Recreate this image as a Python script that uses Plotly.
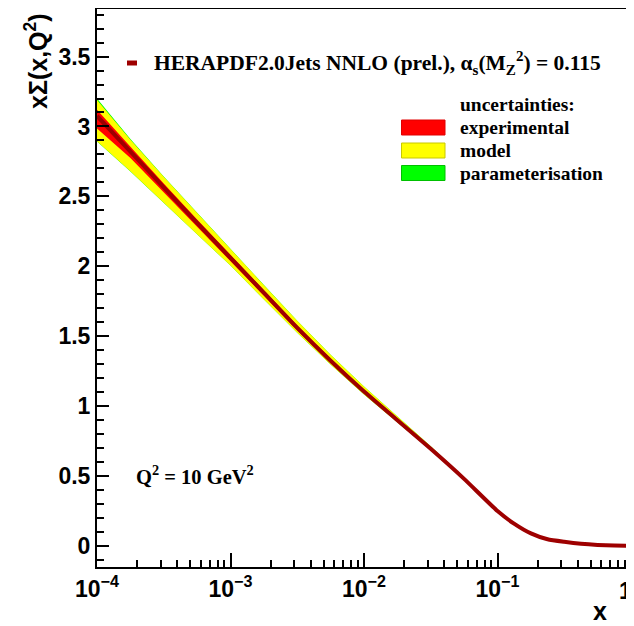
import plotly.graph_objects as go

# ---- data ----
x_vals = [1e-4, 1.78e-4, 3.16e-4, 5.62e-4, 1e-3, 1.78e-3, 3.16e-3, 5.62e-3,
          0.01, 0.0178, 0.0316, 0.0562, 0.1, 0.133, 0.178, 0.237, 0.316,
          0.422, 0.562, 0.75, 0.955]
central = [3.075, 2.82, 2.565, 2.31, 2.06, 1.81, 1.56, 1.325, 1.105, 0.90,
           0.695, 0.48, 0.25, 0.16, 0.09, 0.048, 0.03, 0.016, 0.008, 0.004, 0.002]
exp_hi = [3.12, 2.855, 2.592, 2.335, 2.082, 1.83, 1.578, 1.341, 1.118, 0.909,
          0.702, 0.486, 0.254, 0.162, 0.092, 0.05, 0.032, 0.018, 0.01, 0.006, 0.004]
exp_lo = [2.985, 2.775, 2.535, 2.285, 2.038, 1.79, 1.542, 1.309, 1.092, 0.891,
          0.688, 0.474, 0.246, 0.158, 0.088, 0.046, 0.028, 0.014, 0.006, 0.002, 0.0]
model_hi = [3.19, 2.905, 2.64, 2.38, 2.12, 1.865, 1.61, 1.368, 1.14, 0.927,
            0.713, 0.49, 0.256, 0.163, 0.092, 0.05, 0.031, 0.017, 0.009, 0.005, 0.003]
model_lo = [2.895, 2.68, 2.455, 2.23, 2.005, 1.762, 1.525, 1.298, 1.083, 0.883,
            0.685, 0.472, 0.244, 0.157, 0.088, 0.046, 0.029, 0.015, 0.007, 0.003, 0.001]
param_hi = [3.2, 2.91, 2.643, 2.382, 2.121, 1.866, 1.61, 1.368, 1.14, 0.927,
            0.713, 0.49, 0.256, 0.163, 0.092, 0.05, 0.031, 0.017, 0.009, 0.005, 0.003]
param_lo = [2.892, 2.678, 2.454, 2.229, 2.005, 1.762, 1.525, 1.298, 1.083, 0.883,
            0.685, 0.472, 0.244, 0.157, 0.088, 0.046, 0.029, 0.015, 0.007, 0.003, 0.001]

x_tick_vals = [1e-4, 1e-3, 1e-2, 1e-1]
x_tick_text = ["10<sup>\u22124</sup>", "10<sup>\u22123</sup>", "10<sup>\u22122</sup>",
               "10<sup>\u22121</sup>"]
x_last_tick = "1"

legend_title = "HERAPDF2.0Jets NNLO (prel.), \u03b1<sub>s</sub>(M<sub>Z</sub><sup>2</sup>) = 0.115"
unc_labels = ["experimental", "model", "parameterisation"]
unc_colors = ["#ff0000", "#ffff00", "#00ff00"]
unc_borders = ["#e00000", "#c8c800", "#00c000"]

# ---- layout geometry (page body adds an 8px offset) ----
OFF = 8
W, H = 634 - OFF, 626 - OFF
L, R, T, B = 97 - OFF, 3, 9 - OFF, 59
PW, PH = W - L - R, H - T - B


def px(xp):
    return (xp - OFF - L) / PW


def py(yp):
    return (H - B - (yp - OFF)) / PH


DARK = "#9e0000"
fig = go.Figure()


def band(lo, hi, color):
    fig.add_trace(go.Scatter(
        x=x_vals + x_vals[::-1], y=hi + lo[::-1], mode="lines",
        fill="toself", fillcolor=color, line=dict(width=0, color=color),
        hoverinfo="skip", showlegend=False))


band(param_lo, param_hi, "#00ff00")
band(model_lo, model_hi, "#ffff00")
band(exp_lo, exp_hi, "#ff0000")
fig.add_trace(go.Scatter(x=x_vals, y=central, mode="lines",
                         line=dict(color=DARK, width=4, shape="spline", smoothing=0.5),
                         hoverinfo="skip", showlegend=False))

minor_x = [m * 10.0 ** e for e in range(-4, 0) for m in range(2, 10)]
tickfont = dict(family="Liberation Sans", size=23, color="black", weight="bold")

fig.update_layout(
    width=W, height=H, margin=dict(l=L, r=R, t=T, b=B, pad=0, autoexpand=False),
    paper_bgcolor="white", plot_bgcolor="white", showlegend=False,
    xaxis=dict(type="log", range=[-4, 0], showgrid=False, zeroline=False, automargin=False,
               showline=True, linecolor="black", linewidth=2, mirror=True,
               ticks="inside", ticklen=14, tickwidth=2, tickcolor="black",
               tickmode="array", tickvals=x_tick_vals + [1], ticktext=x_tick_text + [""],
               tickfont=tickfont,
               minor=dict(ticks="inside", ticklen=7, tickwidth=2, tickcolor="black",
                          tickmode="array", tickvals=minor_x, showgrid=False)),
    yaxis=dict(range=[-0.15, 3.84], showgrid=False, zeroline=False, automargin=False,
               showline=True, linecolor="black", linewidth=2, mirror=True,
               ticks="inside", ticklen=12, tickwidth=2, tickcolor="black",
               tick0=0, dtick=0.5, tickfont=tickfont,
               minor=dict(ticks="inside", ticklen=7, tickwidth=2, tickcolor="black",
                          tick0=0, dtick=0.1, showgrid=False)),
)


def serif(size):
    return dict(family="Liberation Serif", size=size, color="black", weight="bold")


ann = []
# axis titles
ann.append(dict(text="x\u03a3(x,Q<sup>2</sup>)", xref="paper", yref="paper",
                x=px(36), y=py(61), xanchor="center", yanchor="middle", textangle=-90,
                showarrow=False,
                font=dict(family="Liberation Sans", size=25, color="black", weight="bold")))
ann.append(dict(text="x", xref="paper", yref="paper", x=px(600), y=py(611),
                xanchor="center", yanchor="middle", showarrow=False,
                font=dict(family="Liberation Sans", size=25, color="black", weight="bold")))
ann.append(dict(text=x_last_tick, xref="paper", yref="paper", x=px(634), y=py(591),
                xanchor="right", yanchor="middle", showarrow=False, font=tickfont))
# legend
ann.append(dict(text=legend_title, xref="paper", yref="paper", x=px(152), y=py(63),
                xanchor="left", yanchor="middle", showarrow=False, font=serif(21.5)))
ann.append(dict(text="uncertainties:", xref="paper", yref="paper", x=px(458), y=py(105),
                xanchor="left", yanchor="middle", showarrow=False, font=serif(19.5)))
row_y = [127.5, 150.5, 173]
shapes = [dict(type="rect", xref="paper", yref="paper", x0=px(127), x1=px(137),
               y0=py(60.5), y1=py(65.5), fillcolor=DARK, line=dict(width=0))]
for lab, col, bc, yc in zip(unc_labels, unc_colors, unc_borders, row_y):
    ann.append(dict(text=lab, xref="paper", yref="paper", x=px(458), y=py(yc),
                    xanchor="left", yanchor="middle", showarrow=False, font=serif(19.5)))
    shapes.append(dict(type="rect", xref="paper", yref="paper",
                       x0=px(401.5), x1=px(445), y0=py(yc - 7.5), y1=py(yc + 7.5),
                       fillcolor=col, line=dict(color=bc, width=1)))
ann.append(dict(text="Q<sup>2</sup> = 10 GeV<sup>2</sup>", xref="paper", yref="paper",
                x=px(134), y=py(475), xanchor="left", yanchor="middle",
                showarrow=False, font=serif(20.5)))

fig.update_layout(annotations=ann, shapes=shapes)
fig.write_html("out.html")
